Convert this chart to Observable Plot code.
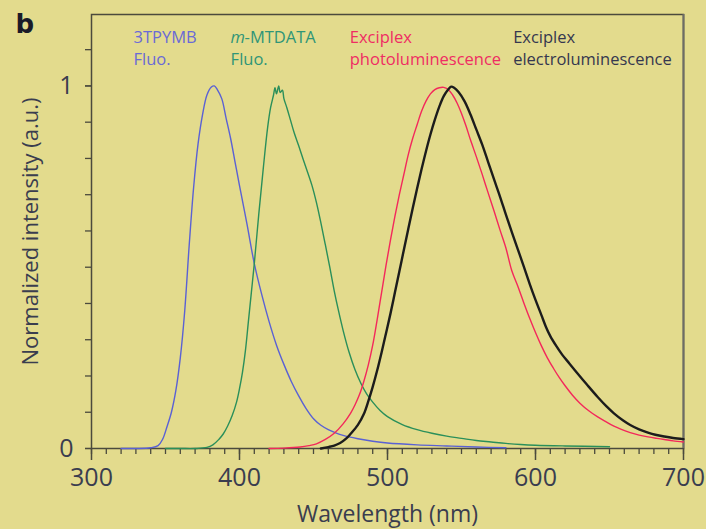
<!DOCTYPE html>
<html>
<head>
<meta charset="utf-8">
<script src="https://cdn.jsdelivr.net/npm/d3@7"></script>
<script src="https://cdn.jsdelivr.net/npm/@observablehq/plot@0.6"></script>
<style>
  html, body { margin: 0; padding: 0; background: #e3db8d; }
  svg { display: block; }
</style>
</head>
<body>
<div id="chart"></div>
<script>
// ---- data ----
const blueNm  = [320,330,340,345,348,351,354,357,360,363,366,369,372,375,378,381,383,385,388,391,394,397,400,405,410,415,420,425,430,435,440,445,450,455,460,465,470,480,490,500,520,540,560,580];
const blueVal = [0,0,0.002,0.008,0.025,0.06,0.1,0.16,0.25,0.38,0.56,0.72,0.84,0.92,0.975,0.997,1.0,0.99,0.965,0.91,0.855,0.79,0.725,0.62,0.51,0.425,0.35,0.285,0.232,0.185,0.145,0.11,0.082,0.064,0.052,0.043,0.036,0.027,0.02,0.015,0.01,0.007,0.004,0.002];

const greenNm  = [350,360,370,378,382,386,389,392,395,398,400,402,404,406,408,410,413,416,419,421,423,424,425,426.5,427.5,429,430,432,434.5,437,440,443,446,449,452,455,458,461,464,467,470,474,478,482,486,490,495,500,510,520,530,540,550,560,570,580,590,600,620,650];
const greenVal = [0,0,0,0.003,0.01,0.025,0.04,0.062,0.09,0.128,0.165,0.21,0.27,0.35,0.43,0.51,0.645,0.77,0.885,0.94,0.975,0.995,0.978,1.0,0.982,0.988,0.965,0.94,0.905,0.87,0.835,0.798,0.762,0.725,0.678,0.622,0.562,0.5,0.435,0.378,0.326,0.266,0.218,0.18,0.15,0.128,0.105,0.088,0.066,0.052,0.042,0.034,0.028,0.022,0.018,0.014,0.011,0.009,0.007,0.005];

const redNm  = [420,430,441,447,452,458,464,470,475,478,481,484,487,490,493,496,499,502,505,508,511,514,517,520,523,526,529,532,535,538,541,544,547,550,553,556,560,564,568,572,576,580,584,588,592,596,600,604,608,612,616,620,625,630,636,642,648,653,658,664,670,676,682,687,693,700];
const redVal = [0,0.001,0.004,0.008,0.013,0.025,0.042,0.068,0.097,0.12,0.148,0.185,0.23,0.285,0.355,0.43,0.505,0.575,0.64,0.7,0.755,0.81,0.855,0.893,0.93,0.958,0.978,0.99,0.995,0.996,0.99,0.975,0.953,0.924,0.89,0.852,0.805,0.756,0.705,0.655,0.603,0.553,0.49,0.448,0.403,0.36,0.32,0.283,0.25,0.222,0.196,0.173,0.147,0.125,0.104,0.087,0.073,0.062,0.053,0.044,0.037,0.032,0.028,0.025,0.021,0.018];

const blackNm  = [455,460,464,468,472,475,480,484,487,490,493,496,499,502,505,508,511,514,517,520,523,526,529,532,535,538,541,543,545,548,552,556,560,564,568,572,576,580,584,588,592,596,600,604,607,610,614,618,623,628,635,642,648,653,659,664,670,676,681,687,693,700];
const blackVal = [0,0.004,0.008,0.015,0.027,0.04,0.065,0.095,0.13,0.17,0.215,0.265,0.318,0.372,0.43,0.488,0.547,0.605,0.662,0.717,0.77,0.82,0.866,0.907,0.943,0.972,0.99,0.998,0.995,0.983,0.958,0.922,0.88,0.838,0.79,0.742,0.695,0.645,0.597,0.55,0.503,0.455,0.41,0.368,0.336,0.31,0.283,0.259,0.234,0.209,0.175,0.142,0.116,0.097,0.078,0.065,0.053,0.044,0.038,0.033,0.029,0.026];

const xTickLabels = [300, 400, 500, 600, 700];
const yTickLabels = [0, 1];
const legendLine1 = ["3TPYMB", "m", "Exciplex", "Exciplex"];
const legendLine2 = ["Fluo.", "Fluo.", "photoluminescence", "electroluminescence"];
const xTitle = "Wavelength (nm)";
const yTitle = "Normalized intensity (a.u.)";
const panelLetter = "b";

// ---- build tables ----
const toRows = (nm, v) => nm.map((x, i) => ({x, y: v[i]}));
const blue = toRows(blueNm, blueVal);
const green = toRows(greenNm, greenVal);
const red = toRows(redNm, redVal);
const black = toRows(blackNm, blackVal);

const BG = "#e3db8d";
const AX = "#4b4a3d";
const TXT = "#3a3d4f";
const colBlue = "#5a61d4", colGreen = "#2a8f5a", colRed = "#f3285b", colBlack = "#1c1c1c";
const txtBlue = "#6a6ad6", txtGreen = "#2f9577", txtRed = "#ef2d63", txtDark = "#35374f";

// legend anchor positions (data space)
const legX = [328.4, 394, 474.5, 584.9];
const legY1 = 1.133, legY2 = 1.073;
const legColors = [txtBlue, txtGreen, txtRed, txtDark];

const legRows1 = legendLine1.map((t, i) => ({t, x: legX[i], c: legColors[i]}));
const legRows2 = legendLine2.map((t, i) => ({t, x: legX[i], c: legColors[i]}));

const chart = Plot.plot({
  width: 706,
  height: 529,
  marginLeft: 91,
  marginRight: 23,
  marginTop: 14,
  marginBottom: 81,
  style: {background: BG, fontFamily: "Open Sans", color: TXT},
  x: {domain: [300, 700]},
  y: {domain: [0, 1.197]},
  marks: [
    Plot.axisX({ticks: d3.range(300, 701, 10), tickSize: 6, tickFormat: () => "", stroke: AX, strokeWidth: 1.3, label: null}),
    Plot.axisX({ticks: xTickLabels, tickSize: 12, tickPadding: 8, fontSize: 25, stroke: AX, strokeWidth: 1.5, fill: TXT, tickFormat: d => String(d), label: null}),
    Plot.axisY({ticks: d3.range(0, 11.5).map(i => i / 10), tickSize: 6, tickFormat: () => "", stroke: AX, strokeWidth: 1.3, label: null}),
    Plot.axisY({ticks: yTickLabels, tickSize: 6, tickPadding: 12, fontSize: 25, stroke: AX, strokeWidth: 1.3, fill: TXT, tickFormat: d => String(d), label: null}),
    Plot.frame({stroke: AX, strokeWidth: 1.5}),
    Plot.ruleX([700], {stroke: "#6d6c66", strokeWidth: 2}),
    Plot.line(blue, {x: "x", y: "y", stroke: colBlue, strokeWidth: 1.4, curve: "catmull-rom"}),
    Plot.line(green, {x: "x", y: "y", stroke: colGreen, strokeWidth: 1.4, curve: "catmull-rom"}),
    Plot.line(red, {x: "x", y: "y", stroke: colRed, strokeWidth: 1.4, curve: "catmull-rom"}),
    Plot.line(black, {x: "x", y: "y", stroke: colBlack, strokeWidth: 2.4, curve: "catmull-rom"}),
    // legend text
    Plot.text(legRows1.filter(d => d.t !== "m"), {x: "x", y: () => legY1, text: "t", fill: "c", textAnchor: "start", fontSize: 16.5}),
    Plot.text(legRows1.filter(d => d.t === "m"), {x: "x", y: () => legY1, text: "t", fill: "c", textAnchor: "start", fontSize: 16.5, fontStyle: "italic"}),
    Plot.text(legRows1.filter(d => d.t === "m"), {x: "x", y: () => legY1, text: () => "-MTDATA", fill: "c", textAnchor: "start", fontSize: 16.5, dx: 14}),
    Plot.text(legRows2, {x: "x", y: () => legY2, text: "t", fill: "c", textAnchor: "start", fontSize: 16.5}),
    // axis titles
    Plot.text([xTitle], {frameAnchor: "bottom", dy: 66, fontSize: 23, fill: TXT, lineAnchor: "middle"}),
    Plot.text([yTitle], {frameAnchor: "left", dx: -61, rotate: -90, textAnchor: "middle", fontSize: 22, fill: TXT}),
    Plot.text([panelLetter], {frameAnchor: "top-left", dx: -76, dy: 0, fontSize: 26, fontWeight: "bold", fill: "#1a1a28", fontFamily: "DejaVu Sans"})
  ]
});
document.getElementById("chart").appendChild(chart);
</script>
</body>
</html>
